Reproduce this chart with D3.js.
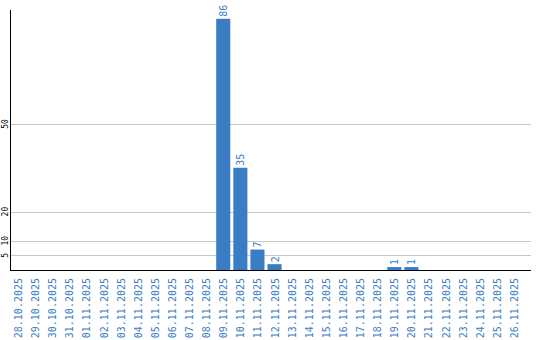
<!DOCTYPE html>
<html>
<head>
<meta charset="utf-8">
<script src="https://cdn.jsdelivr.net/npm/d3@7"></script>
<style>
  body { margin: 0; background: #fff; }
  text { font-family: "DejaVu Sans Mono", monospace; }
</style>
</head>
<body>
<svg id="chart" width="540" height="340"></svg>
<script>
const dates = ['28.10.2025','29.10.2025','30.10.2025','31.10.2025','01.11.2025','02.11.2025','03.11.2025',
  '04.11.2025','05.11.2025','06.11.2025','07.11.2025','08.11.2025','09.11.2025','10.11.2025','11.11.2025',
  '12.11.2025','13.11.2025','14.11.2025','15.11.2025','16.11.2025','17.11.2025','18.11.2025','19.11.2025',
  '20.11.2025','21.11.2025','22.11.2025','23.11.2025','24.11.2025','25.11.2025','26.11.2025'];
const counts = [0,0,0,0,0,0,0,0,0,0,0,0,86,35,7,2,0,0,0,0,0,0,1,1,0,0,0,0,0,0];
const yTicks = [5, 10, 20, 50];

const svg = d3.select('#chart');
const mLeft = 11, mRight = 531, mTop = 10, base = 270;
const blue = '#3b7dc4';

const x = d3.scaleBand().domain(dates).range([mLeft, mLeft + 17 * dates.length]).paddingInner(3 / 17).paddingOuter(0);
const y = d3.scaleLinear().domain([0, 89]).range([base, mTop]);

// gridlines
svg.append('g').selectAll('line').data(yTicks).join('line')
  .attr('x1', mLeft).attr('x2', mRight)
  .attr('y1', d => Math.round(y(d)) + 0.5).attr('y2', d => Math.round(y(d)) + 0.5)
  .attr('stroke', '#c8c8c8');

// y tick labels
svg.append('g').selectAll('text').data(yTicks).join('text')
  .attr('transform', d => `translate(8,${y(d)}) rotate(-90)`)
  .attr('text-anchor', 'middle')
  .attr('font-size', '8px')
  .attr('fill', '#000')
  .text(d => d);

// bars
const data = dates.map((d, i) => ({ date: d, v: counts[i] }));
svg.append('g').selectAll('rect').data(data.filter(d => d.v > 0)).join('rect')
  .attr('x', d => x(d.date))
  .attr('width', x.bandwidth())
  .attr('y', d => y(d.v))
  .attr('height', d => base - y(d.v))
  .attr('fill', blue);

// value labels
svg.append('g').selectAll('text').data(data.filter(d => d.v > 0)).join('text')
  .attr('transform', d => `translate(${x(d.date) + x.bandwidth() / 2 + 4},${y(d.v) - 2}) rotate(-90)`)
  .attr('font-size', '10px')
  .attr('fill', blue)
  .text(d => d.v);

// axes
svg.append('line').attr('x1', mLeft - 0.5).attr('x2', mLeft - 0.5).attr('y1', mTop).attr('y2', base).attr('stroke', '#000');
svg.append('line').attr('x1', mLeft - 1).attr('x2', mRight).attr('y1', base + 0.5).attr('y2', base + 0.5).attr('stroke', '#000');

// x labels
svg.append('g').selectAll('text').data(dates).join('text')
  .attr('transform', d => `translate(${x(d) + x.bandwidth() / 2 + 4},278) rotate(-90)`)
  .attr('text-anchor', 'end')
  .attr('font-size', '10px')
  .attr('fill', blue)
  .text(d => d);
</script>
</body>
</html>
